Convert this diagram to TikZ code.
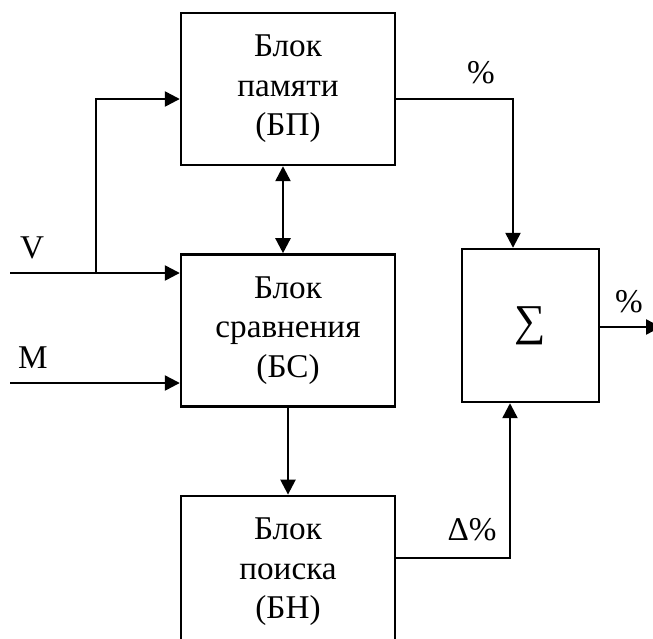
\documentclass[tikz,border=0pt]{standalone}
\usepackage{fontspec}
\setmainfont{Liberation Serif}
\usepackage{tikz}
\usetikzlibrary{arrows.meta,positioning}

\begin{document}
\begin{tikzpicture}[
      x=0.5pt, y=-0.5pt,
      font=\fontsize{16.6}{19.75}\selectfont,
      node distance=43.5pt,
      blok/.style={draw, line width=1.2pt, align=center,
                   minimum width=107pt, minimum height=76pt},
      summ/.style={draw, line width=1.2pt, font=\fontsize{22}{24}\selectfont,
                   minimum width=68.5pt, minimum height=76.5pt},
      lbl/.style={anchor=base, inner sep=0pt},
      arr/.style={-{Triangle[length=7.5pt, width=7.5pt]}, line width=1.2pt},
      arrr/.style={{Triangle[length=7.5pt, width=7.5pt]}-{Triangle[length=7.5pt, width=7.5pt]}, line width=1.2pt}
  ]
  \useasboundingbox (0,0) rectangle (653,638);

  \node[blok] at (288,89) (bp) {Блок\\памяти\\(БП)};
  \node[blok, below=of bp] (bs) {Блок\\сравнения\\(БС)};
  \node[blok, below=of bs] (bn) {Блок\\поиска\\(БН)};
  \node[summ] at (530.5,325.5) (sum) {∑};

  \coordinate (vin) at (10,273);
  \coordinate (vbr) at (96,273);
  \coordinate (min) at (10,383);
  \coordinate (out) at (661,327);

  \node[lbl] at (32,258) (v) {V};
  \node[lbl] at (33,368) (m) {M};
  \node[lbl] at (481,83) (p1) {\%};
  \node[lbl] at (472,540) (dp) {Δ\%};
  \node[lbl] at (629,312) (p2) {\%};

  \draw[arr] (vin) -- (vin -| bs.west);
  \draw[arr] (vbr) |- ([yshift=-5pt]bp.west);
  \draw[arr] (min) -- (min -| bs.west);
  \draw[arrr] ([xshift=-2.5pt]bp.south) -- ([xshift=-2.5pt]bs.north);
  \draw[arr] (bs) -- (bn);
  \draw[arr] ([yshift=-5pt]bp.east) -| ([xshift=-8.75pt]sum.north);
  \draw[arr] ([yshift=7pt]bn.east) -| ([xshift=-10.25pt]sum.south);
  \draw[arr] (sum.east |- out) -- (out);
  \end{tikzpicture}
\end{document}
